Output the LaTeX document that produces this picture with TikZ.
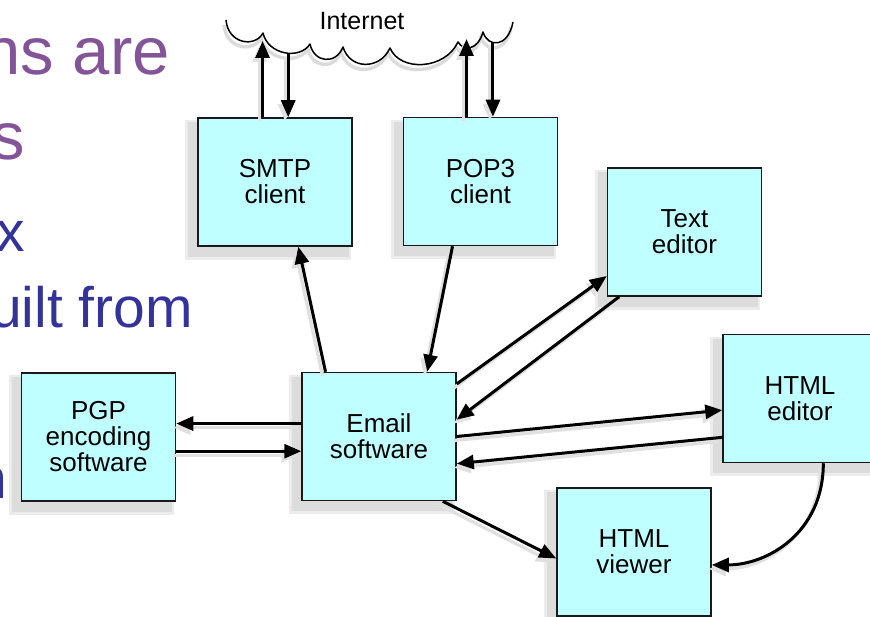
\documentclass[tikz,border=0pt]{standalone}
\usepackage{fontspec}
\setmainfont{Liberation Sans}
\usetikzlibrary{arrows.meta,calc}
\pgfdeclarelayer{bg}
\pgfsetlayers{bg,main}

\definecolor{boxfill}{RGB}{192,255,255}
\definecolor{slidepurple}{RGB}{132,84,152}
\definecolor{slideblue}{RGB}{51,51,153}
\definecolor{shadowgray}{RGB}{220,220,220}
\definecolor{shadowlight}{RGB}{236,236,236}

\tikzset{
  box/.style={draw=black!90, line width=1.5pt, fill=boxfill,
    minimum width=154pt, minimum height=128pt, inner sep=0pt,
    align=center, font=\fontsize{26}{26}\selectfont},
  linkshadow/.style={preaction={draw=black!12, line width=3.4pt,
    transform canvas={shift={(-3pt,-4pt)}}}},
  link/.style={linkshadow, line width=3pt,
    -{Triangle[length=17pt,width=14pt]}},
  cloudline/.style={line width=1.5pt, line join=round,
    preaction={draw=black!14, line width=3.4pt,
      transform canvas={shift={(-2pt,-5pt)}}}},
  slidebig/.style={anchor=base east, inner sep=0pt, text=slidepurple,
    font=\fontsize{67}{67}\selectfont},
  slidesmall/.style={anchor=base east, inner sep=0pt, text=slideblue,
    font=\fontsize{57}{57}\selectfont}
}

\newcommand{\dropshadow}[1]{%
  \begin{pgfonlayer}{bg}
    \fill[shadowlight] ($(#1.north west)+(-12,3)$) rectangle ($(#1.south east)+(-2,13)$);
    \fill[shadowgray] ($(#1.north west)+(-9,5)$) rectangle ($(#1.south east)+(-4,10)$);
  \end{pgfonlayer}}

\begin{document}
\begin{tikzpicture}[x=1pt,y=-1pt]
\useasboundingbox (0,0) rectangle (870,617);
\clip (0,0) rectangle (870,617);

% bullet text of the slide behind the figure
\node[slidebig] (t1) at (170,75) {ns are};
\node[slidebig] (t2) at (25,160) {s};
\node[slidesmall] (t3) at (25,252) {x};
\node[slidesmall] (t4) at (193,328) {uilt from};
\node[slidesmall] (t5) at (7,498) {n};

% Internet cloud (lower edge only)
\draw[cloudline]
  (226,20) .. controls (228,44) and (255,48) .. (263,33)
           .. controls (268,55) and (300,60) .. (310,44)
           .. controls (314,63) and (336,65) .. (343,47)
           .. controls (350,70) and (380,70) .. (390,48)
           .. controls (400,72) and (445,70) .. (458,42)
           .. controls (464,52) and (478,50) .. (483,32)
           .. controls (488,48) and (508,48) .. (513,22);
\node[font=\fontsize{25}{25}\selectfont, anchor=base, inner sep=0pt] (net) at (362,30) {Internet};

\coordinate (cA) at (263,41);
\coordinate (cB) at (288,54);
\coordinate (cC) at (467,39);
\coordinate (cD) at (493,42);

% program boxes
\node[box] (smtp) at (275,182)   {SMTP\\client};
\node[box] (pop)  at (480.5,181.5) {POP3\\client};
\node[box] (txt)  at (684.5,232) {Text\\editor};
\node[box] (hed)  at (800,398.5) {HTML\\editor};
\node[box] (view) at (634,552)   {HTML\\viewer};
\node[box] (mail) at (379,436.5) {Email\\software};
\node[box] (pgp)  at (98.5,437)  {PGP\\encoding\\software};

\dropshadow{smtp}
\dropshadow{pop}
\dropshadow{txt}
\dropshadow{hed}
\dropshadow{view}
\dropshadow{mail}
\dropshadow{pgp}

% attachment points
\coordinate (s1) at ($(smtp.north west)!0.42!(smtp.north east)$);
\coordinate (s2) at ($(smtp.north west)!0.585!(smtp.north east)$);
\coordinate (p1) at ($(pop.north west)!0.41!(pop.north east)$);
\coordinate (p2) at ($(pop.north west)!0.58!(pop.north east)$);
\coordinate (m1) at ($(mail.north west)!0.40!(mail.south west)$);
\coordinate (g1) at ($(pgp.north east)!0.61!(pgp.south east)$);

% Internet links
\draw[link] (s1) -- (s1 |- cA);
\draw[link] (s2 |- cB) -- (s2);
\draw[link] (p1) -- (p1 |- cC);
\draw[link] (p2 |- cD) -- (p2);

% links of the email program
\draw[link] ($(mail.north west)!0.156!(mail.north east)$) -- ($(smtp.south west)!0.65!(smtp.south east)$);
\draw[link] ($(pop.south west)!0.32!(pop.south east)$) -- ($(mail.north west)!0.81!(mail.north east)$);
\draw[link] ($(mail.north east)!0.094!(mail.south east)$) -- ($(txt.north west)!0.84!(txt.south west)$);
\draw[link] ($(txt.south west)!0.08!(txt.south east)$) -- ($(mail.north east)!0.37!(mail.south east)$);
\draw[link] ($(mail.north east)!0.5!(mail.south east)$) -- ($(hed.north west)!0.59!(hed.south west)$);
\draw[link] ($(hed.north west)!0.8!(hed.south west)$) -- ($(mail.north east)!0.71!(mail.south east)$);
\draw[link] ($(mail.south west)!0.91!(mail.south east)$) -- ($(view.north west)!0.55!(view.south west)$);
\draw[link] ($(hed.south west)!0.65!(hed.south east)$) .. controls +(0,70) and +(55,0) .. ($(view.north east)!0.6!(view.south east)$);
\draw[link] (m1) -- (m1 -| pgp.east);
\draw[link] (g1) -- (g1 -| mail.west);
\end{tikzpicture}
\end{document}
